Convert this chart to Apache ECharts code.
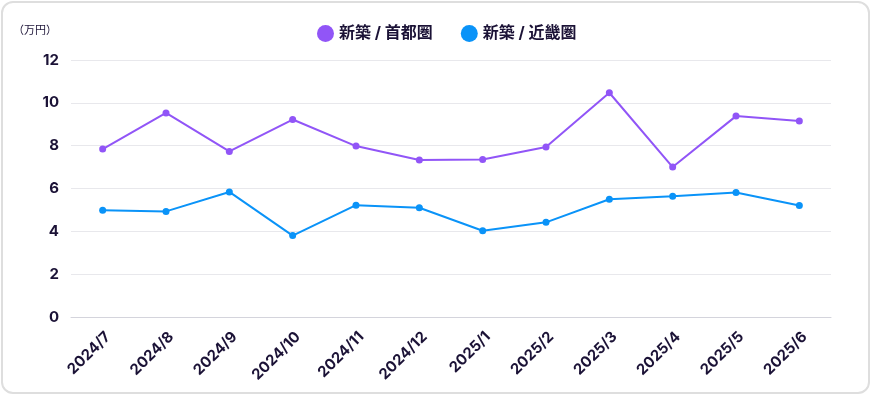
<!DOCTYPE html>
<html><head><meta charset="utf-8">
<script src="https://cdn.jsdelivr.net/npm/echarts@6/dist/echarts.min.js"></script>
<style>
html,body{margin:0;padding:0;background:#fff;}
#frame{position:absolute;left:1px;top:1px;width:865px;height:389px;border:2px solid #dedede;border-radius:12px;box-sizing:content-box;}
#c{position:absolute;left:0;top:0;width:871px;height:395px;}
</style></head>
<body>
<div id="frame"></div>
<div id="c"></div>
<script>
const categories = ['2024/7','2024/8','2024/9','2024/10','2024/11','2024/12','2025/1','2025/2','2025/3','2025/4','2025/5','2025/6'];
const shutoken = [7.84, 9.53, 7.73, 9.22, 7.98, 7.33, 7.35, 7.94, 10.47, 7.0, 9.38, 9.15];
const kinki = [4.98, 4.93, 5.84, 3.8, 5.22, 5.1, 4.03, 4.42, 5.5, 5.64, 5.81, 5.21];
const seriesNames = ['新築 / 首都圏', '新築 / 近畿圏'];
const colors = ['#9155f7', '#0a93f8'];
const textColor = '#1b1236';
const font = 'Inter, "Noto Sans CJK JP", sans-serif';

const chart = echarts.init(document.getElementById('c'), null, {renderer:'canvas'});
chart.setOption({
  animation: false,
  textStyle: {fontFamily: font},
  legend: {
    top: 20, left: 312, itemGap: 28,
    icon: 'circle', itemWidth: 17, itemHeight: 17,
    textStyle: {fontSize: 16, fontWeight: 'bold', color: textColor, fontFamily: font},
    data: seriesNames
  },
  grid: {left: 71, right: 40, top: 60, bottom: 78, containLabel: false},
  xAxis: {
    type: 'category', data: categories, boundaryGap: true,
    axisLine: {lineStyle: {color: '#d4d4dc', width: 1}},
    axisTick: {show: false},
    axisLabel: {rotate: 45, color: textColor, fontSize: 15, fontWeight: 'bold', fontFamily: font,
      margin: 12, interval: 0, align: 'right', verticalAlign: 'top'}
  },
  yAxis: {
    type: 'value', min: 0, max: 12, interval: 2,
    name: '（万円）', nameLocation: 'end', nameGap: 24,
    nameTextStyle: {color: textColor, fontSize: 11, align: 'right', padding: [0, 14, 0, 0], fontFamily: font},
    axisLine: {show: false}, axisTick: {show: false},
    axisLabel: {color: textColor, fontSize: 15, fontWeight: 'bold', margin: 12, fontFamily: font},
    splitLine: {lineStyle: {color: '#e8e8ec', width: 1}}
  },
  series: [
    {name: seriesNames[0], type: 'line', data: shutoken, color: colors[0], symbol: 'circle', symbolSize: 7, lineStyle: {width: 2}},
    {name: seriesNames[1], type: 'line', data: kinki, color: colors[1], symbol: 'circle', symbolSize: 7, lineStyle: {width: 2}}
  ]
});
</script>
</body></html>
